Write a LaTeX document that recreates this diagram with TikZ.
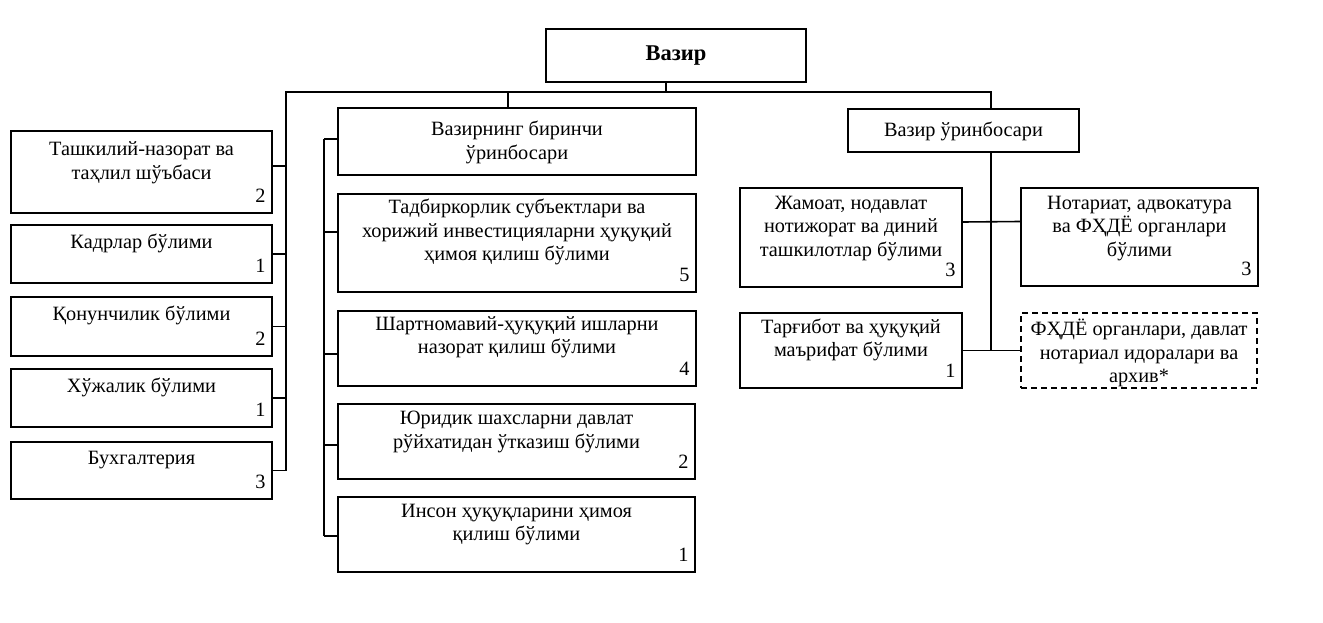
\documentclass[tikz,border=0pt]{standalone}
\usepackage{fontspec}
\setmainfont{Liberation Serif}
\usetikzlibrary{fit}
\tikzset{
  box/.style={draw, line width=1.6pt, inner sep=0pt, fit={#1}},
  dbox/.style={box={#1}, dash pattern=on 6pt off 4pt},
  txt/.style={anchor=north, inner sep=0pt, align=center, font=\fontsize{20.3}{23.3}\selectfont},
  num/.style={anchor=base east, inner sep=0pt, font=\fontsize{20.3}{23.3}\selectfont, xshift=-7pt, yshift=11pt},
  conn/.style={line width=1.6pt},
}
\newcommand\orgbox[8]{%
  \node[box={(#2,#3)(#4,#5)}] (#1) {};
  \node[txt, yshift=-#6pt] (#1t) at (#1.north) {#7};
  \node[num] (#1n) at (#1.south east) {#8};
}
\begin{document}
\begin{tikzpicture}[x=1pt,y=-1pt]
\useasboundingbox (0,0) rectangle (1323,623);
% top
\node[box={(546,29)(806,82)}] (vazir) {};
\node[inner sep=0pt, font=\fontsize{22.5}{26}\selectfont\bfseries] (vazirt) at (vazir.center) {Вазир};
% left column
\orgbox{b1}{11}{131}{272}{213}{11.5}{Ташкилий-назорат ва\\таҳлил шўъбаси}{2}
\orgbox{b2}{11}{225}{272}{283}{10}{Кадрлар бўлими}{1}
\orgbox{b3}{11}{297}{272}{356}{10}{Қонунчилик бўлими}{2}
\orgbox{b4}{11}{369}{272}{427}{10}{Хўжалик бўлими}{1}
\orgbox{b5}{11}{442}{272}{499}{10}{Бухгалтерия}{3}
% middle column
\node[box={(338,108)(696,175)}] (mA) {};
\node[txt, yshift=-14pt] (mAt) at (mA.north) {Вазирнинг биринчи\\ўринбосари};
\orgbox{mB}{338}{194}{696}{292}{6}{Тадбиркорлик субъектлари ва\\хорижий инвестицияларни ҳуқуқий\\ҳимоя қилиш бўлими}{5}
\orgbox{mC}{338}{311}{696}{386}{6}{Шартномавий-ҳуқуқий ишларни\\назорат қилиш бўлими}{4}
\orgbox{mD}{338}{404}{695}{479}{8}{Юридик шахсларни давлат\\рўйхатидан ўтказиш бўлими}{2}
\orgbox{mE}{338}{497}{695}{572}{8}{Инсон ҳуқуқларини ҳимоя\\қилиш бўлими}{1}
% right column
\node[box={(848,109)(1079,152)}] (dep2) {};
\node[txt, anchor=center, yshift=-1pt] (dep2t) at (dep2.center) {Вазир ўринбосари};
\orgbox{rJ}{740}{188}{962}{287}{9}{Жамоат, нодавлат\\нотижорат ва диний\\ташкилотлар бўлими}{3}
\orgbox{rN}{1021}{188}{1258}{286}{9}{Нотариат, адвокатура\\ва ФҲДЁ органлари\\бўлими}{3}
\orgbox{rT}{740}{313}{962}{388}{6.5}{Тарғибот ва ҳуқуқий\\маърифат бўлими}{1}
\node[dbox={(1021,313)(1257,388)}] (rD) {};
\node[txt, yshift=-7pt] (rDt) at (rD.north) {ФҲДЁ органлари, давлат\\нотариал идоралари ва\\архив*};
% connectors
\coordinate (busL) at (286,92);
\coordinate (busM) at (508,92);
\coordinate (busR) at (991,92);
\coordinate (mbus) at (324,0);
\draw[conn] ([xshift=-10pt]vazir.south) -- ([xshift=-10pt]vazir.south |- busL);
\draw[conn] (busL |- b5.east) -- (busL) -- (busR) -- (busR |- dep2.north);
\draw[conn] (busM) -- (busM |- mA.north);
\draw[conn] ([yshift=6pt]b1.east) -- ([yshift=6pt]b1.east -| busL);
\draw[conn] (b2.east) -- (b2.east -| busL);
\draw[conn] (b3.east) -- (b3.east -| busL);
\draw[conn] (b4.east) -- (b4.east -| busL);
\draw[conn] (b5.east) -- (b5.east -| busL);
\draw[conn] ([yshift=2.5pt]mA.west -| mbus) -- ([yshift=-1.5pt]mE.west -| mbus);
\draw[conn] ([yshift=2.5pt]mA.west) -- ([yshift=2.5pt]mA.west -| mbus);
\draw[conn] ([yshift=11pt]mB.west) -- ([yshift=11pt]mB.west -| mbus);
\draw[conn] ([yshift=-5.5pt]mC.west) -- ([yshift=-5.5pt]mC.west -| mbus);
\draw[conn] ([yshift=-3.5pt]mD.west) -- ([yshift=-3.5pt]mD.west -| mbus);
\draw[conn] ([yshift=-1.5pt]mE.west) -- ([yshift=-1.5pt]mE.west -| mbus);
\draw[conn] (busR |- dep2.south) -- (busR |- rT.east);
\draw[conn] ([yshift=15.5pt]rJ.east) -- ([yshift=15.5pt]rN.west);
\draw[conn] (rT.east) -- (rD.west);
\end{tikzpicture}
\end{document}
